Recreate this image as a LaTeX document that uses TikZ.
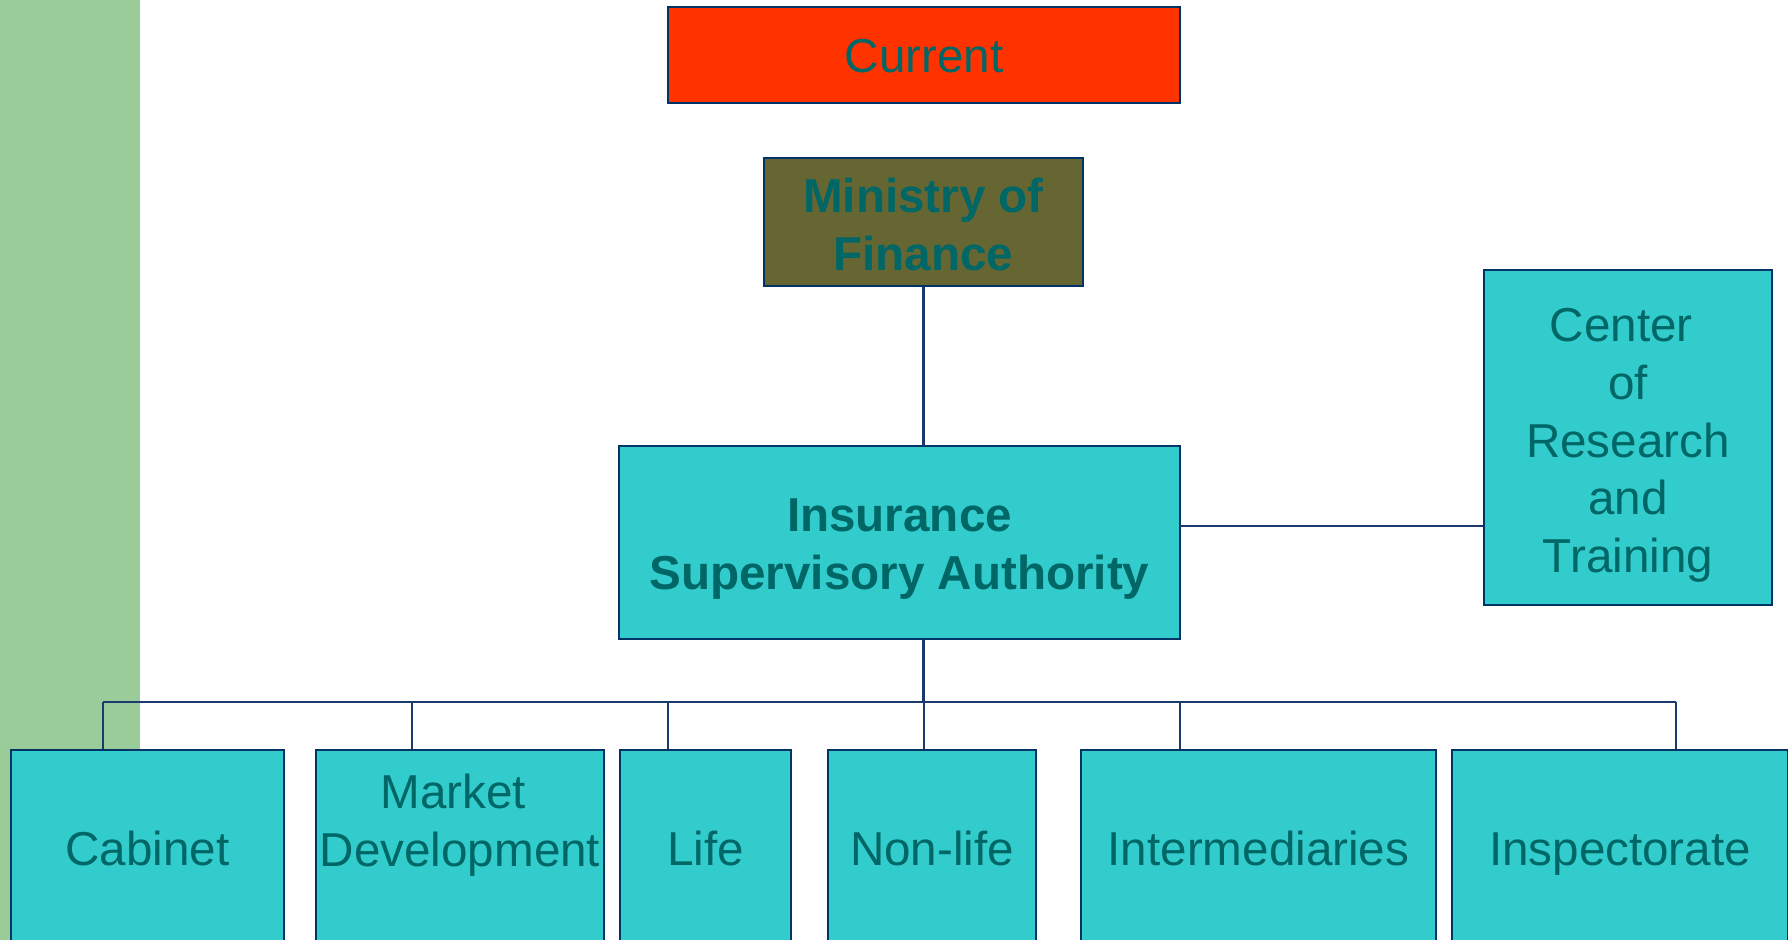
\documentclass[tikz,border=0pt]{standalone}
\usepackage{fontspec}
\setmainfont{Liberation Sans}
\definecolor{sidegreen}{HTML}{99CC99}
\definecolor{boxteal}{HTML}{33CCCC}
\definecolor{boxred}{HTML}{FF3300}
\definecolor{boxolive}{HTML}{666633}
\definecolor{labelteal}{HTML}{006666}
\definecolor{edgenavy}{HTML}{003366}
\definecolor{wirenavy}{HTML}{1A3A6E}

% Box given by its corners in pixel units: name, x1, y1, x2, y2, style, caption
\newcommand\orgbox[7]{%
  \node[#6, minimum width={(#4-#2)*0.5pt}, minimum height={(#5-#3)*0.5pt}]
    (#1) at ({(#2+#4)/2},{(#3+#5)/2}) {#7};}

\begin{document}
\begin{tikzpicture}[x=0.5pt, y=-0.5pt,
  caption/.style={align=center, text=labelteal, inner sep=0pt,
    font=\fontsize{23.8pt}{28.8pt}\selectfont},
  boldcaption/.style={caption, font=\fontsize{23.8pt}{28.8pt}\selectfont\bfseries},
  oneline/.style={caption, text height=17.35pt, text depth=0pt},
  unit/.style={draw=edgenavy, line width=1.2pt, inner sep=0pt, oneline},
  tealunit/.style={unit, fill=boxteal},
  wire/.style={draw=wirenavy, line width=1.1pt}]
\useasboundingbox (0,0) rectangle (1788,940);
\clip (0,0) rectangle (1788,940);

% side band
\fill[sidegreen] (0,0) rectangle (140,940);

% title and upper levels
\orgbox{cur}{668}{7}{1180}{103}{unit, fill=boxred}{Current}
\orgbox{mof}{764}{158}{1083}{286}{unit, fill=boxolive,
  label={[boldcaption, yshift=-1.2pt]center:{Ministry of\\Finance}}}{}
\orgbox{isa}{619}{446}{1180}{639}{tealunit,
  label={[boldcaption, yshift=-3.4pt]center:{Insurance\\Supervisory Authority}}}{}
\orgbox{crt}{1484}{270}{1772}{605}{tealunit,
  label={[caption, yshift=-4pt]center:{Center\hspace*{0.28em}\\of\\Research\hspace*{0.28em}\\and\\Training}}}{}

% departments (boxes run past the lower edge)
\orgbox{cab}{11}{750}{284}{946}{tealunit}{Cabinet}
\orgbox{mkt}{316}{750}{604}{946}{tealunit,
  label={[caption, yshift=11.5pt]center:{Market\hspace*{0.28em}\\Development}}}{}
\orgbox{life}{620}{750}{791}{946}{tealunit}{Life}
\orgbox{nonlife}{828}{750}{1036}{946}{tealunit}{Non-life}
\orgbox{inter}{1081}{750}{1436}{946}{tealunit}{Intermediaries}
\orgbox{insp}{1452}{750}{1788}{946}{tealunit}{Inspectorate}

% connectors
\draw[wire] (mof.south) -- (mof.south |- isa.north);
\coordinate (crttap) at (1180,526);
\draw[wire] (crttap) -- (crttap -| crt.west);
\coordinate (busL) at (103,702);
\coordinate (busR) at (1676,702);
\draw[wire] (mof.south |- isa.south) -- (mof.south |- busL);
\draw[wire] (busL) -- (busR);
\foreach \x/\n in {103/cab, 412/mkt, 668/life, 924/nonlife, 1180/inter, 1676/insp}
  \draw[wire] (\x,702) -- (\x,702 |- \n.north);
\end{tikzpicture}
\end{document}
